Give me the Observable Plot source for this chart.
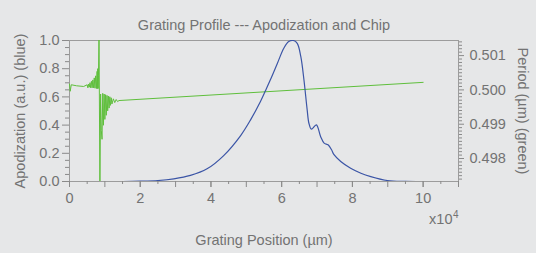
<!DOCTYPE html>
<html>
<head>
<meta charset="utf-8">
<script src="https://cdn.jsdelivr.net/npm/d3@7"></script>
<script src="https://cdn.jsdelivr.net/npm/@observablehq/plot@0.6"></script>
<style>
  html, body { margin: 0; padding: 0; background: #e6e7e8; }
</style>
</head>
<body>
<div id="chart"></div>
<script>
// Apodization profile (blue), positions in µm
const apodPos = [0, 10000, 15000, 20000, 25000, 29500, 34200, 38900, 43600, 48400, 51200, 54000, 55400, 56800, 58800, 60600, 62000, 63300, 64400, 65400, 66300, 67200, 67700, 68400, 69800, 71000, 72000, 73100, 74100, 74800, 76700, 79500, 82400, 85200, 89900, 95000, 100000];
const apodVal = [0, 0, 0, 0.002, 0.007, 0.019, 0.043, 0.09, 0.184, 0.326, 0.437, 0.567, 0.643, 0.721, 0.839, 0.945, 0.993, 1.0, 0.98, 0.887, 0.72, 0.51, 0.413, 0.371, 0.402, 0.319, 0.272, 0.26, 0.225, 0.19, 0.142, 0.094, 0.059, 0.035, 0.007, 0.001, 0];

// Grating period (green), positions in µm, period in µm
const periodPos = [0, 200, 500, 2000, 4000, 5000, 5200, 5400, 5600, 5800, 6000, 6200, 6400, 6600, 6800, 7000, 7200, 7400, 7600, 7800, 7900, 8000, 8100, 8200, 8350, 8600, 8800, 9000, 9200, 9400, 9600, 9800, 10000, 10200, 10400, 10600, 10800, 11000, 11200, 11400, 11600, 11800, 12000, 12400, 12800, 13200, 13600, 14000, 100000];
const periodVal = [0.50017, 0.49996, 0.50015, 0.50012, 0.50010, 0.50015, 0.50006, 0.50017, 0.50008, 0.50021, 0.50006, 0.50025, 0.50006, 0.50029, 0.50006, 0.50035, 0.50005, 0.50041, 0.50004, 0.50054, 0.50004, 0.50062, 0.50004, 0.50041, 0.50165, 0.49712, 0.49988, 0.49881, 0.49856, 0.49990, 0.49897, 0.49988, 0.49914, 0.49986, 0.49926, 0.49984, 0.49939, 0.49982, 0.49947, 0.49980, 0.49955, 0.49977, 0.49959, 0.49974, 0.49963, 0.49972, 0.49966, 0.49969, 0.50022];

// Axis ticks
const xMajorTicks = [0, 20000, 40000, 60000, 80000, 100000];
const xMidTicks = [0, 10000, 20000, 30000, 40000, 50000, 60000, 70000, 80000, 90000, 100000, 110000];
const xMinorTicks = [5000, 15000, 25000, 35000, 45000, 55000, 65000, 75000, 85000, 95000, 105000];
const apodTicks = [0, 0.2, 0.4, 0.6, 0.8, 1.0];
const apodMinorTicks = [0.05, 0.1, 0.15, 0.25, 0.3, 0.35, 0.45, 0.5, 0.55, 0.65, 0.7, 0.75, 0.85, 0.9, 0.95];
const periodTicks = [0.498, 0.499, 0.500, 0.501];
const periodMinorTicks = [0.4974, 0.4975, 0.4976, 0.4977, 0.4978, 0.4979, 0.4981, 0.4982, 0.4983, 0.4984, 0.4985, 0.4986, 0.4987, 0.4988, 0.4989, 0.4991, 0.4992, 0.4993, 0.4994, 0.4995, 0.4996, 0.4997, 0.4998, 0.4999, 0.5001, 0.5002, 0.5003, 0.5004, 0.5005, 0.5006, 0.5007, 0.5008, 0.5009, 0.5011, 0.5012, 0.5013, 0.5014];
const periodDomain = [0.49733, 0.50144];

const P0 = periodDomain[0], P1 = periodDomain[1];
const toY = p => (p - P0) / (P1 - P0);
const fromY = v => v * (P1 - P0) + P0;

const apod = apodPos.map((x, i) => ({x, v: apodVal[i]}));
const period = periodPos.map((x, i) => ({x, p: periodVal[i]}));

const blue = "#3b55a6";
const green = "#5fbf3c";
const textColor = "#737373";
const tickColor = "#8a8a8a";
const fs = 14.5;

const chart = Plot.plot({
  width: 536,
  height: 253,
  marginLeft: 69,
  marginRight: 78,
  marginTop: 40,
  marginBottom: 72,
  style: {background: "#e6e7e8", fontFamily: "'Liberation Sans', Arial, sans-serif", fontSize: fs + "px", color: textColor},
  x: {domain: [0, 110000], label: null},
  y: {domain: [0, 1], label: null},
  marks: [
    Plot.frame({stroke: "#9c9c9c"}),
    Plot.axisX({ticks: xMidTicks, tickSize: 6, tickFormat: () => "", stroke: tickColor}),
    Plot.axisX({ticks: xMinorTicks, tickSize: 3, tickFormat: () => "", stroke: tickColor}),
    Plot.axisX({ticks: xMajorTicks, tickSize: 6, tickPadding: 5, tickFormat: d => String(d / 1e4), stroke: tickColor, fill: textColor, fontSize: fs}),
    Plot.axisY({anchor: "left", ticks: apodMinorTicks, tickSize: 4, tickFormat: () => "", stroke: tickColor}),
    Plot.axisY({anchor: "left", ticks: apodTicks, tickSize: 7, tickPadding: 3, tickFormat: d => d.toFixed(1), stroke: tickColor, fill: textColor, fontSize: fs}),
    Plot.axisY({anchor: "right", ticks: periodMinorTicks.map(toY), tickSize: 3, tickFormat: () => "", stroke: tickColor}),
    Plot.axisY({anchor: "right", ticks: periodTicks.map(toY), tickSize: 5, tickPadding: 6, tickFormat: v => fromY(v).toFixed(3), stroke: tickColor, fill: textColor, fontSize: fs}),
    Plot.line(period, {x: "x", y: d => toY(d.p), stroke: green, strokeWidth: 1, clip: true}),
    Plot.line(apod, {x: "x", y: "v", stroke: blue, strokeWidth: 1.2, curve: "catmull-rom", clip: true}),
    Plot.text(["Grating Profile --- Apodization and Chip"], {frameAnchor: "top", dy: -21, fill: textColor, fontSize: fs}),
    Plot.text(["Apodization (a.u.) (blue)"], {frameAnchor: "left", dx: -49, rotate: -90, textAnchor: "middle", fill: textColor, fontSize: fs}),
    Plot.text(["Period (µm) (green)"], {frameAnchor: "right", dx: 64, rotate: 90, textAnchor: "middle", fill: textColor, fontSize: fs}),
    Plot.text(["Grating Position (µm)"], {frameAnchor: "bottom", dy: 63, fill: textColor, fontSize: fs}),
    Plot.text(["x10"], {frameAnchor: "bottom-right", dx: -6, dy: 42, textAnchor: "end", fill: textColor, fontSize: fs}),
    Plot.text(["4"], {frameAnchor: "bottom-right", dx: 0, dy: 36, textAnchor: "end", fill: textColor, fontSize: 10})
  ]
});
document.getElementById("chart").appendChild(chart);
</script>
</body>
</html>
